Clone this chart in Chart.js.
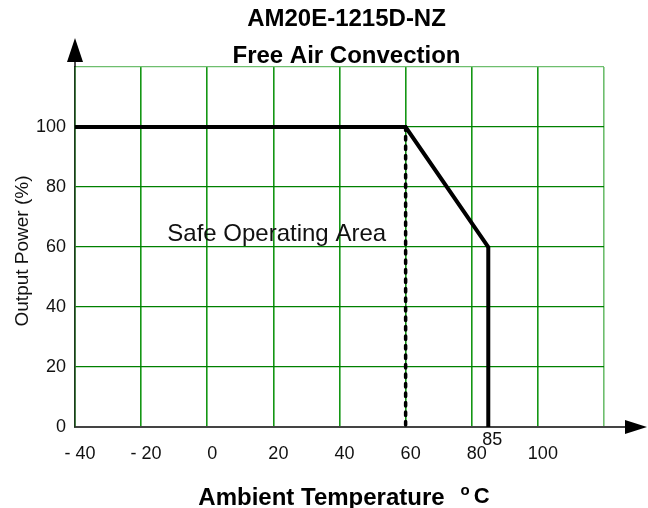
<!DOCTYPE html>
<html><head><meta charset="utf-8">
<script src="https://cdn.jsdelivr.net/npm/chart.js@4.4.0/dist/chart.umd.min.js"></script>
<style>html,body{margin:0;padding:0;background:#fff;} #wrap{width:648px;height:508px;position:relative;}</style>
</head><body><div id="wrap"><canvas id="c"></canvas></div>
<script>
// ---- data ----
const titleLines = ['AM20E-1215D-NZ', 'Free Air Convection'];
const xAxisTitle = 'Ambient Temperature';
const xUnitSup = 'o';
const xUnit = 'C';
const yAxisTitle = 'Output Power (%)';
const areaLabel = 'Safe Operating Area';
const areaLabelX = 21;   // data coords of label centre
const areaLabelY = 62;   // data coords of label baseline

const xTickValues = [-40, -20, 0, 20, 40, 60, 80, 100, 120];
const xTickLabels = ['- 40', '- 20', '0', '20', '40', '60', '80', '100', ''];
const yTickValues = [0, 20, 40, 60, 80, 100, 120];
const yTickLabels = ['0', '20', '40', '60', '80', '100', ''];

const deratingTemp  = [-40, 60, 85, 85];
const deratingPower = [100, 100, 60, 0];
const limitTemp  = [60, 60];
const limitPower = [100, 0];
const cutoffTemp = 85;
const cutoffLabel = '85';

const FONT = "Arial, 'Liberation Sans', Helvetica, sans-serif";
const GRID = 'rgb(0,128,0)';
const GRID_V = 'rgb(20,150,20)';
const GRID_EDGE = 'rgb(110,190,110)';

const toPts = (xs, ys) => xs.map((v, i) => ({x: v, y: ys[i]}));

const decor = {
  id: 'decor',
  afterDraw(chart) {
    const {ctx, chartArea: a, scales: {x, y}} = chart;
    ctx.save();
    // y axis extension + arrow
    ctx.strokeStyle = '#111'; ctx.lineWidth = 1.5;
    ctx.beginPath(); ctx.moveTo(a.left, a.top); ctx.lineTo(a.left, a.top - 8); ctx.stroke();
    ctx.fillStyle = '#000';
    ctx.beginPath(); ctx.moveTo(a.left, a.top - 29); ctx.lineTo(a.left - 8, a.top - 5); ctx.lineTo(a.left + 8, a.top - 5); ctx.closePath(); ctx.fill();
    // x axis extension + arrow
    ctx.strokeStyle = '#444'; ctx.lineWidth = 2;
    ctx.beginPath(); ctx.moveTo(a.right, a.bottom); ctx.lineTo(a.right + 24, a.bottom); ctx.stroke();
    ctx.beginPath(); ctx.moveTo(a.right + 43, a.bottom); ctx.lineTo(a.right + 21, a.bottom - 7); ctx.lineTo(a.right + 21, a.bottom + 7); ctx.closePath(); ctx.fill();

    // titles
    const cx = (a.left + a.right) / 2 + 7;
    ctx.fillStyle = '#000';
    ctx.textAlign = 'center'; ctx.textBaseline = 'alphabetic';
    ctx.font = 'bold 24px ' + FONT;
    ctx.fillText(titleLines[0], cx, 26);
    ctx.fillText(titleLines[1], cx, 63);

    // y axis title
    ctx.save();
    ctx.translate(22.5, (a.top + a.bottom) / 2 + 4);
    ctx.rotate(-Math.PI / 2);
    ctx.font = '19px ' + FONT; ctx.fillStyle = '#111';
    ctx.textAlign = 'center'; ctx.textBaseline = 'middle';
    ctx.fillText(yAxisTitle, 0, 0);
    ctx.restore();

    // x axis title with superscript unit
    ctx.textAlign = 'left';
    ctx.font = 'bold 24px ' + FONT;
    const w1 = ctx.measureText(xAxisTitle).width;
    ctx.font = 'bold 15px ' + FONT;
    const w2 = ctx.measureText(xUnitSup).width;
    ctx.font = 'bold 22px ' + FONT;
    const w3 = ctx.measureText(xUnit).width;
    const gap1 = 16, gap2 = 4;
    const total = w1 + gap1 + w2 + gap2 + w3;
    let sx = (a.left + a.right) / 2 + 4.5 - total / 2;
    ctx.font = 'bold 24px ' + FONT;
    ctx.fillText(xAxisTitle, sx, 505);
    sx += w1 + gap1;
    ctx.font = 'bold 15px ' + FONT;
    ctx.fillText(xUnitSup, sx, 495);
    sx += w2 + gap2;
    ctx.font = 'bold 22px ' + FONT;
    ctx.fillText(xUnit, sx, 503);

    // cutoff tick label
    ctx.font = '18px ' + FONT; ctx.fillStyle = '#111';
    ctx.textAlign = 'center'; ctx.textBaseline = 'middle';
    ctx.fillText(cutoffLabel, x.getPixelForValue(cutoffTemp) + 4, a.bottom + 13);

    // area label
    ctx.font = '24px ' + FONT; ctx.fillStyle = '#111';
    ctx.textAlign = 'center'; ctx.textBaseline = 'alphabetic';
    ctx.fillText(areaLabel, x.getPixelForValue(areaLabelX), y.getPixelForValue(areaLabelY));
    ctx.restore();
  }
};

const gridColorH = (c) => (c.tick && c.tick.value === 120) ? GRID_EDGE : GRID;
const gridColorV = (c) => (c.tick && c.tick.value === 120) ? GRID_EDGE : GRID_V;

new Chart(document.getElementById('c'), {
  type: 'line',
  data: {
    datasets: [
      {
        data: toPts(deratingTemp, deratingPower),
        borderColor: '#000', borderWidth: 4, pointRadius: 0,
        borderJoinStyle: 'miter', tension: 0, fill: false
      },
      {
        data: toPts(limitTemp, limitPower),
        borderColor: '#000', borderWidth: 3.5, pointRadius: 0,
        borderDash: [3.5, 6], borderCapStyle: 'round', tension: 0, fill: false
      }
    ]
  },
  options: {
    responsive: true, maintainAspectRatio: false, animation: false,
    layout: {padding: {top: 67, right: 44, left: 0, bottom: 0}},
    plugins: {legend: {display: false}, tooltip: {enabled: false}, title: {display: false}},
    scales: {
      x: {
        type: 'linear', min: -40, max: 120,
        afterBuildTicks: s => { s.ticks = xTickValues.map(v => ({value: v})); },
        afterFit: s => { s.height = 81; },
        ticks: {
          callback: v => { const i = xTickValues.indexOf(v); return i >= 0 ? xTickLabels[i] : ''; },
          font: {family: FONT, size: 18}, color: '#111', padding: 16, labelOffset: 5,
          maxRotation: 0, autoSkip: false
        },
        grid: {color: gridColorV, lineWidth: 1.6, drawTicks: false},
        border: {color: '#444', width: 2}
      },
      y: {
        type: 'linear', min: 0, max: 120,
        afterBuildTicks: s => { s.ticks = yTickValues.map(v => ({value: v})); },
        afterFit: s => { s.width = 75; },
        ticks: {
          callback: v => { const i = yTickValues.indexOf(v); return i >= 0 ? yTickLabels[i] : ''; },
          font: {family: FONT, size: 18}, color: '#111', padding: 9, autoSkip: false
        },
        grid: {color: gridColorH, lineWidth: 1.2, drawTicks: false},
        border: {color: '#1c3a1c', width: 1.5}
      }
    }
  },
  plugins: [decor]
});
</script>
</body></html>
